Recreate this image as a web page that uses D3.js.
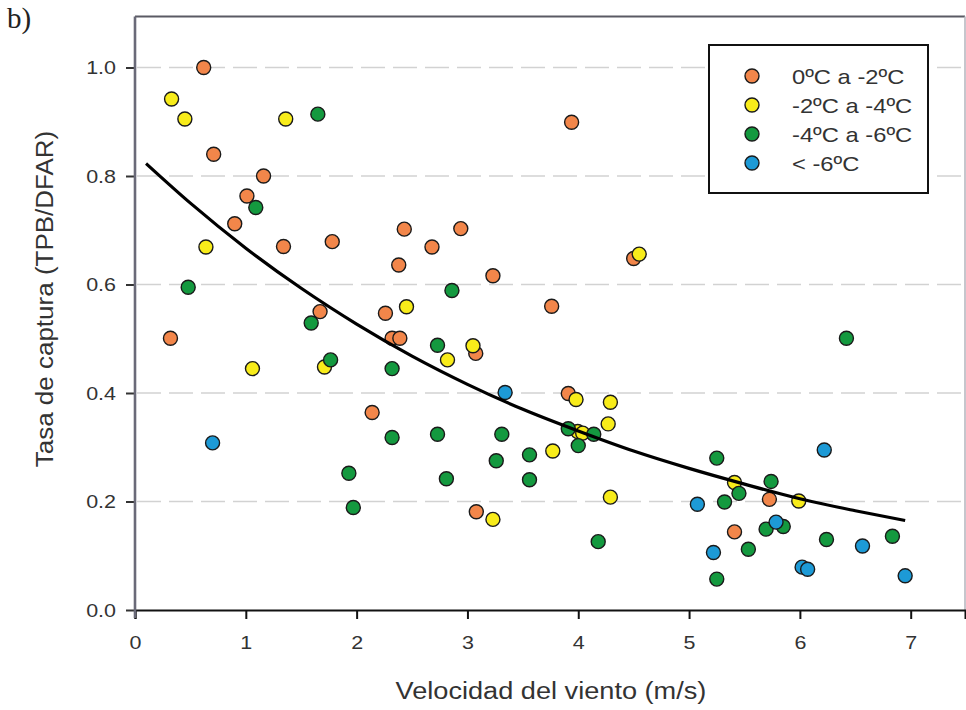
<!DOCTYPE html>
<html>
<head>
<meta charset="utf-8">
<script src="https://cdn.jsdelivr.net/npm/d3@7"></script>
<style>
  body { margin: 0; background: #fff; }
</style>
</head>
<body>
<div id="scatter"></div>
<script>
// datos (velocidad del viento, tasa de captura)
let grupo1 = [[0.62,1.00],[0.71,0.84],[1.16,0.80],[1.01,0.763],[0.90,0.712],[1.34,0.670],[1.78,0.679],
  [2.43,0.702],[2.68,0.669],[2.94,0.703],[3.94,0.899],[0.32,0.501],[1.67,0.550],[2.38,0.636],[3.23,0.616],
  [3.76,0.560],[2.26,0.547],[2.32,0.501],[2.39,0.501],[3.075,0.473],[3.91,0.399],[2.14,0.364],[3.08,0.181],
  [4.50,0.648],[5.725,0.204],[5.41,0.144]]
let grupo2 = [[0.33,0.942],[0.45,0.905],[1.36,0.905],[0.64,0.669],[1.06,0.445],[1.71,0.448],[2.45,0.559],
  [3.05,0.487],[2.82,0.461],[3.98,0.388],[4.29,0.383],[4.27,0.343],[3.995,0.329],[4.04,0.326],[3.77,0.293],
  [3.23,0.167],[4.29,0.208],[4.55,0.656],[5.41,0.235],[5.99,0.201]]
let grupo3 = [[1.65,0.914],[1.09,0.742],[0.48,0.595],[1.59,0.529],[1.765,0.461],[2.86,0.589],[2.73,0.488],
  [2.32,0.445],[2.32,0.318],[2.73,0.324],[3.31,0.324],[3.91,0.334],[4.14,0.324],[4.00,0.303],[3.56,0.286],
  [3.26,0.275],[1.93,0.252],[2.81,0.242],[3.56,0.240],[1.97,0.189],[4.18,0.126],[6.42,0.501],[5.25,0.280],
  [5.74,0.237],[5.45,0.215],[5.32,0.199],[5.695,0.149],[5.85,0.154],[5.535,0.112],[6.24,0.130],[6.835,0.136],
  [5.25,0.057]]
let grupo4 = [[0.70,0.308],[3.34,0.401],[6.22,0.295],[5.075,0.195],[5.785,0.162],[5.22,0.106],[6.565,0.118],
  [6.02,0.079],[6.07,0.075],[6.95,0.063]]

// curva de ajuste (puntos leidos sobre la linea negra)
let curva = [[0.1,0.823],[0.5,0.750],[1.0,0.667],[1.5,0.593],[2.0,0.527],[2.5,0.468],[3.0,0.416],
  [3.5,0.370],[4.0,0.330],[4.5,0.293],[5.0,0.261],[5.5,0.232],[6.0,0.205],[6.5,0.183],[6.95,0.165]]

let grupos = ["0ºC a -2ºC", "-2ºC a -4ºC", "-4ºC a -6ºC", "< -6ºC"]
let colores = ["#f2864a", "#f8ec1a", "#14993f", "#1d9ad6"]
let xTicks = [0, 1, 2, 3, 4, 5, 6, 7]
let yTicks = [0.0, 0.2, 0.4, 0.6, 0.8, 1.0]

let series = [grupo1, grupo2, grupo3, grupo4]

var width = 966
var height = 710
var margin = { top: 16.5, right: 1, bottom: 100, left: 135 }
var fuente = "'Liberation Sans', Arial, sans-serif"
var estirar = 1.13 // el original esta algo estirado en horizontal

var svg = d3.select("#scatter").append("svg")
  .attr("width", width)
  .attr("height", height)

var x = d3.scaleLinear().domain([0, 7.49]).range([margin.left, width - margin.right])
var y = d3.scaleLinear().domain([0, 1.094]).range([height - margin.bottom, margin.top])

function ensanchar(sel, factor) {
  let f = factor || estirar
  sel.each(function () {
    let largo = this.getComputedTextLength()
    d3.select(this).attr("textLength", largo * f).attr("lengthAdjust", "spacingAndGlyphs")
  })
}

// lineas de grilla
svg.append("g").selectAll("line")
  .data(yTicks.filter(d => d > 0))
  .enter().append("line")
  .attr("x1", x(0) + 2)
  .attr("x2", x(7.49) - 1)
  .attr("y1", d => y(d))
  .attr("y2", d => y(d))
  .attr("stroke", "#d2d2d2")
  .attr("stroke-width", 1.6)
  .attr("stroke-dasharray", "24,8")

// marco superior y derecho
svg.append("line")
  .attr("x1", x(0)).attr("x2", x(7.49))
  .attr("y1", y(1.094)).attr("y2", y(1.094))
  .attr("stroke", "#5a5a64").attr("stroke-width", 2.2)
svg.append("line")
  .attr("x1", x(7.49)).attr("x2", x(7.49))
  .attr("y1", y(1.094)).attr("y2", y(0))
  .attr("stroke", "#b8b8c0").attr("stroke-width", 1.6)

// eje x
let xAxisG = svg.append("g")
  .attr("transform", "translate(0," + y(0) + ")")
  .call(d3.axisBottom(x).tickValues(xTicks).tickFormat(d3.format("d")).tickSize(9).tickPadding(17))
xAxisG.select(".domain").attr("stroke", "#111").attr("stroke-width", 2)
xAxisG.selectAll(".tick line").attr("stroke", "#111").attr("stroke-width", 2)
xAxisG.selectAll(".tick text")
  .attr("font-size", 19).attr("fill", "#333")
  .attr("font-family", fuente)
  .call(ensanchar)

// eje y
let yAxisG = svg.append("g")
  .attr("transform", "translate(" + x(0) + ",0)")
  .call(d3.axisLeft(y).tickValues(yTicks).tickFormat(d3.format(".1f")).tickSize(9).tickPadding(10))
yAxisG.select(".domain").remove()
yAxisG.append("line")
  .attr("x1", 0).attr("x2", 0)
  .attr("y1", y(1.094)).attr("y2", y(0) + 8)
  .attr("stroke", "#6a6a78").attr("stroke-width", 2.6)
yAxisG.selectAll(".tick line").attr("stroke", "#333").attr("stroke-width", 2)
yAxisG.selectAll(".tick text")
  .attr("font-size", 19).attr("fill", "#333")
  .attr("font-family", fuente)
  .call(ensanchar)

// titulos
svg.append("text")
  .attr("x", 551)
  .attr("y", 699)
  .attr("text-anchor", "middle")
  .attr("font-size", 23)
  .attr("font-family", fuente)
  .attr("fill", "#333")
  .text("Velocidad del viento (m/s)")
  .call(ensanchar, 1.18)

svg.append("text")
  .attr("transform", "translate(53," + 299 + ") rotate(-90)")
  .attr("text-anchor", "middle")
  .attr("font-size", 23)
  .attr("font-family", fuente)
  .attr("fill", "#333")
  .text("Tasa de captura (TPB/DFAR)")
  .call(ensanchar)

svg.append("text")
  .attr("x", 7)
  .attr("y", 28)
  .attr("font-size", 29)
  .attr("font-family", "'Liberation Serif', 'DejaVu Serif', serif")
  .attr("fill", "#222")
  .text("b)")

// puntos
series.forEach(function (datos, i) {
  svg.append("g").selectAll("circle")
    .data(datos)
    .enter().append("circle")
    .attr("cx", d => x(d[0]))
    .attr("cy", d => y(d[1]))
    .attr("r", 7)
    .attr("fill", colores[i])
    .attr("stroke", "#1a1a1a")
    .attr("stroke-width", 1.4)
})

// curva
var linea = d3.line()
  .x(d => x(d[0]))
  .y(d => y(d[1]))
  .curve(d3.curveMonotoneX)
svg.append("path")
  .datum(curva)
  .attr("d", linea)
  .attr("fill", "none")
  .attr("stroke", "#000")
  .attr("stroke-width", 3.2)

// leyenda
let leyenda = svg.append("g").attr("transform", "translate(709,45)")
leyenda.append("rect")
  .attr("width", 219)
  .attr("height", 148)
  .attr("fill", "#fff")
  .attr("stroke", "#111")
  .attr("stroke-width", 2)
grupos.forEach(function (g, i) {
  leyenda.append("circle")
    .attr("cx", 43)
    .attr("cy", 31 + i * 29)
    .attr("r", 7)
    .attr("fill", colores[i])
    .attr("stroke", "#1a1a1a")
    .attr("stroke-width", 1.4)
  leyenda.append("text")
    .attr("x", 83)
    .attr("y", 31 + i * 29)
    .attr("dy", "0.36em")
    .attr("font-size", 21)
    .attr("font-family", fuente)
    .attr("fill", "#333")
    .text(g)
    .call(ensanchar)
})
</script>
</body>
</html>
